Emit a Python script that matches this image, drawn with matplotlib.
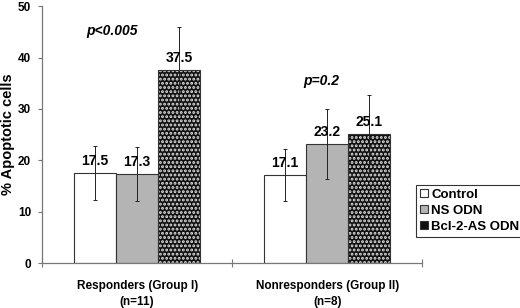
import matplotlib
matplotlib.use("Agg")
import matplotlib.pyplot as plt
from matplotlib.patches import Patch
import numpy as np

plt.rcParams['font.family'] = ['Liberation Sans', 'DejaVu Sans']
plt.rcParams['font.weight'] = 'bold'
plt.rcParams['hatch.linewidth'] = 1.4

categories = ["Responders (Group I)\n(n=11)", "Nonresponders (Group II)\n(n=8)"]
series = ["Control", "NS ODN", "Bcl-2-AS ODN"]
values = {
    "Control": [17.5, 17.1],
    "NS ODN": [17.3, 23.2],
    "Bcl-2-AS ODN": [37.5, 25.1],
}
errors = {
    "Control": [5.2, 5.1],
    "NS ODN": [5.2, 6.8],
    "Bcl-2-AS ODN": [8.4, 7.6],
}
pvals = ["p<0.005", "p=0.2"]
pval_x = [-0.132, 0.968]
pval_y = [45.1, 35.4]

fig = plt.figure(figsize=(5.2, 3.08), dpi=100)
ax = fig.add_axes([0.081, 0.146, 0.731, 0.834])

x = np.arange(len(categories))
w = 0.221
offsets = [-w, 0, w]
styles = {
    "Control": dict(facecolor="white", hatch=None),
    "NS ODN": dict(facecolor="#b4b4b4", hatch=None),
    "Bcl-2-AS ODN": dict(facecolor="#111111", hatch="...."),
}

handles = []
for s, off in zip(series, offsets):
    st = styles[s]
    xs = x + off
    if st["hatch"]:
        ax.bar(xs, values[s], w, color=st["facecolor"], edgecolor="#e0e0e0",
               hatch=st["hatch"], linewidth=0, zorder=2)
        ax.bar(xs, values[s], w, facecolor="none", edgecolor="#333333",
               linewidth=0.8, zorder=3)
        h = Patch(facecolor=st["facecolor"], edgecolor="#333333", hatch="",
                  linewidth=0.8)
    else:
        h = ax.bar(xs, values[s], w, color=st["facecolor"], edgecolor="#333333",
                   linewidth=0.8, zorder=2)
    handles.append(h)
    ax.errorbar(xs, values[s], yerr=errors[s], fmt="none", ecolor="#222222",
                elinewidth=0.7, capsize=1.5, capthick=0.7, zorder=4)
    for xi, v in zip(xs, values[s]):
        ax.text(xi, v + 2.4, f"{v}", ha="center", va="center", fontsize=10,
                fontweight="bold", zorder=5)

for px, p, py in zip(pval_x, pvals, pval_y):
    ax.text(px, py, p, ha="center", va="center",
            fontsize=10, fontweight="bold", fontstyle="italic")

ax.set_xlim(-0.5, 1.5)
ax.set_ylim(0, 50)
ax.set_yticks([0, 10, 20, 30, 40, 50])
ax.tick_params(axis="y", labelsize=8.5, length=3, width=0.8, color="#777777", pad=5)
ax.set_xticks([-0.5, 0.5, 1.5])
ax.set_xticklabels([])
ax.set_xticks(x, minor=True)
ax.set_xticklabels(categories, minor=True, fontsize=8.5, fontweight="bold",
                   linespacing=1.4)
ax.tick_params(axis="x", which="major", direction="inout", length=6, width=0.8, color="#777777")
ax.tick_params(axis="x", which="minor", length=0, pad=12.5)
for sp in ["top", "right"]:
    ax.spines[sp].set_visible(False)
for sp in ["left", "bottom"]:
    ax.spines[sp].set_color("#777777")
    ax.spines[sp].set_linewidth(0.9)
ax.set_ylabel("% Apoptotic cells", fontsize=10.5, fontweight="bold")
ax.yaxis.set_label_coords(-0.072, 0.5)

leg = fig.legend(handles, series, loc="upper left", bbox_to_anchor=(0.800, 0.40),
                 fontsize=9.5, frameon=True, fancybox=False, edgecolor="black",
                 handlelength=0.6, handleheight=0.6, handletextpad=0.25,
                 borderpad=0.3, labelspacing=0.3, borderaxespad=0)
leg.get_frame().set_linewidth(0.8)
for t in leg.get_texts():
    t.set_fontweight("bold")

fig.savefig("out.png", dpi=100)
